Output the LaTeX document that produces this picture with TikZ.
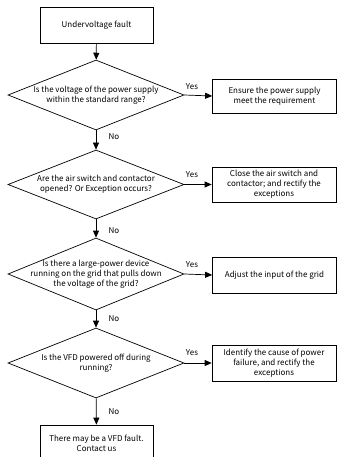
\documentclass[tikz,border=0pt]{standalone}
\usepackage{fontspec}
\setmainfont{Noto Sans CJK SC}
\usetikzlibrary{shapes.geometric,arrows.meta}
\begin{document}
\begin{tikzpicture}[x=1pt,y=-1pt,
  every node/.style={font=\fontsize{8}{10}\selectfont},
  proc/.style={draw,line width=0.7pt,minimum width=#1,inner sep=0pt,align=center},
  proc/.default=124pt,
  dia/.style={draw,shape=diamond,line width=0.7pt,minimum width=176pt,inner sep=0pt},
  txt/.style={align=center,inner sep=0pt},
  lbl/.style={inner sep=0pt},
  arr/.style={line width=0.7pt,-{Triangle[length=7pt,width=6pt]}}]
\useasboundingbox (0,0) rectangle (337,457);
% start
\node[proc=113pt,minimum height=36pt] (b0) at (96.5,25) {Undervoltage fault};
% decision 1
\node[dia,minimum height=70pt] (d1) at (96,95) {};
\node[txt] (t1) at (d1.center) {Is the voltage of the power supply\\within the standard range?};
\node[proc,minimum height=34pt] (y1) at (274.5,96) {Ensure the power supply\\meet the requirement};
% decision 2
\node[dia,minimum height=69pt] (d2) at (96,184.5) {};
\node[txt] (t2) at (d2.center) {Are the air switch and contactor\\opened? Or Exception occurs?};
\node[proc,minimum height=35pt] (y2) at (274,184.5) {Close the air switch and\\contactor; and rectify the\\exceptions};
% decision 3
\node[dia,minimum height=72pt] (d3) at (96,274) {};
\node[txt] (t3) at (d3.center) {Is there a large-power device\\running on the grid that pulls down\\the voltage of the grid?};
\node[proc,minimum height=36pt] (y3) at (274.5,275) {Adjust the input of the grid};
% decision 4
\node[dia,minimum height=70pt] (d4) at (96,363) {};
\node[txt] (t4) at (d4.center) {Is the VFD powered off during\\running?};
\node[proc,minimum height=36pt] (y4) at (274,363) {Identify the cause of power\\failure, and rectify the\\exceptions};
% end
\node[proc=113pt,minimum height=36pt] (e) at (96.5,443) {There may be a VFD fault.\\Contact us};
% connectors
\draw[arr] (b0) -- (d1);
\draw[arr] (d1) -- (d2);
\draw[arr] (d2) -- (d3);
\draw[arr] (d3) -- (d4);
\draw[arr] (d4) -- (e);
\draw[arr] (d1.east) -- (y1.west);
\draw[arr] (d2.east) -- (y2.west);
\draw[arr] (d3.east) -- (y3.west);
\draw[arr] (d4.east) -- (y4.west);
% labels
\node[lbl] (yes1) at (192,87) {Yes};
\node[lbl] (yes2) at (192,175) {Yes};
\node[lbl] (yes3) at (192,265) {Yes};
\node[lbl] (yes4) at (192,353) {Yes};
\node[lbl] (no1) at (114,137) {No};
\node[lbl] (no2) at (114,231) {No};
\node[lbl] (no3) at (114,319) {No};
\node[lbl] (no4) at (114,412) {No};
\end{tikzpicture}
\end{document}
